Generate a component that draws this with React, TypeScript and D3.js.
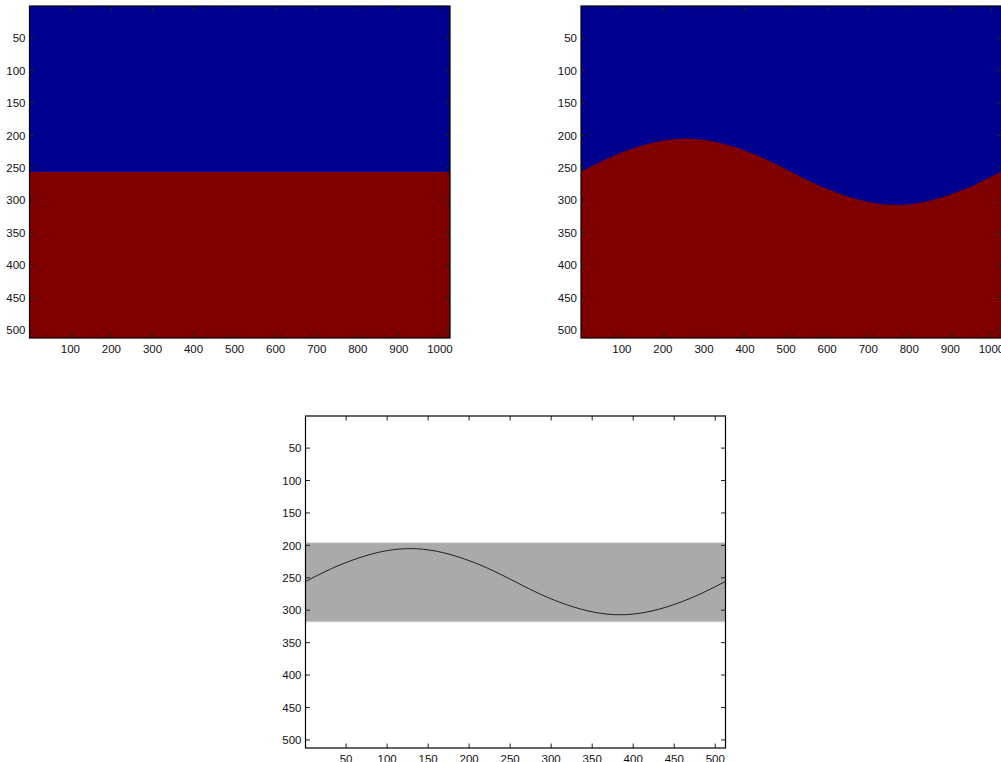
import * as d3 from "d3";

// image sizes (columns x rows)
const wideCols = 1024;
const wideRows = 512;
const squareSize = 512;

// tick values
const wideXTicks = [100, 200, 300, 400, 500, 600, 700, 800, 900, 1000];
const rowTicks = [50, 100, 150, 200, 250, 300, 350, 400, 450, 500];
const squareXTicks = [50, 100, 150, 200, 250, 300, 350, 400, 450, 500];

// flat split row (top-left image)
const flatSplitRow = 256;

// wave boundary rows
const waveRows = [256, 236, 220, 209, 205, 209, 220, 236, 256, 276, 292, 303, 307, 303, 292, 276, 256];
const waveColsWide = [0, 64, 128, 192, 256, 320, 384, 448, 512, 576, 640, 704, 768, 832, 896, 960, 1024];
const waveColsSquare = [0, 32, 64, 96, 128, 160, 192, 224, 256, 288, 320, 352, 384, 416, 448, 480, 512];

// gray band (bottom image)
const bandTopRow = 196;
const bandBottomRow = 318;

const BLUE = "#00008f";
const RED = "#7f0000";
const GRAY = "#aaaaaa";
const FONT = "'Liberation Sans', Arial, Helvetica, sans-serif";

type Frame = { left: number; top: number; width: number; height: number };

function Axes({
  id,
  frame,
  cols,
  rows,
  xTicks,
  yTicks,
  children,
}: {
  id: string;
  frame: Frame;
  cols: number;
  rows: number;
  xTicks: number[];
  yTicks: number[];
  children: (x: d3.ScaleLinear<number, number>, y: d3.ScaleLinear<number, number>) => any;
}) {
  const x = d3.scaleLinear().domain([0.5, cols + 0.5]).range([0, frame.width]);
  const y = d3.scaleLinear().domain([0.5, rows + 0.5]).range([0, frame.height]);
  const tl = 4.5;
  return (
    <g transform={`translate(${frame.left},${frame.top})`}>
      <defs>
        <clipPath id={id}>
          <rect width={frame.width} height={frame.height} />
        </clipPath>
      </defs>
      <g clipPath={`url(#${id})`}>{children(x, y)}</g>
      {xTicks.map((t) => (
        <g key={"x" + t}>
          <line x1={x(t)} x2={x(t)} y1={frame.height} y2={frame.height - tl} stroke="#222" />
          <line x1={x(t)} x2={x(t)} y1={0} y2={tl} stroke="#222" />
          <text
            x={x(t)}
            y={frame.height + 15}
            textAnchor="middle"
            fontSize={11.5}
            fontFamily={FONT}
            fill="#111"
          >
            {t}
          </text>
        </g>
      ))}
      {yTicks.map((t) => (
        <g key={"y" + t}>
          <line x1={0} x2={tl} y1={y(t)} y2={y(t)} stroke="#222" />
          <line x1={frame.width} x2={frame.width - tl} y1={y(t)} y2={y(t)} stroke="#222" />
          <text
            x={-4}
            y={y(t)}
            dy="0.36em"
            textAnchor="end"
            fontSize={11.5}
            fontFamily={FONT}
            fill="#111"
          >
            {t}
          </text>
        </g>
      ))}
      <rect width={frame.width} height={frame.height} fill="none" stroke="#000" strokeWidth={1.2} />
    </g>
  );
}

export default function App() {
  const topLeft: Frame = { left: 29.5, top: 6, width: 420.5, height: 332 };
  const topRight: Frame = { left: 581, top: 6, width: 420.5, height: 332 };
  const bottom: Frame = { left: 305.5, top: 416, width: 420, height: 332 };

  return (
    <svg
      width={1001}
      height={762}
      style={{ position: "absolute", left: 0, top: 0, background: "#fff" }}
    >
      <Axes id="c1" frame={topLeft} cols={wideCols} rows={wideRows} xTicks={wideXTicks} yTicks={rowTicks}>
        {(x, y) => (
          <>
            <rect x={0} y={0} width={topLeft.width} height={y(flatSplitRow + 0.5)} fill={BLUE} />
            <rect
              x={0}
              y={y(flatSplitRow + 0.5)}
              width={topLeft.width}
              height={topLeft.height - y(flatSplitRow + 0.5)}
              fill={RED}
            />
          </>
        )}
      </Axes>
      <Axes id="c2" frame={topRight} cols={wideCols} rows={wideRows} xTicks={wideXTicks} yTicks={rowTicks}>
        {(x, y) => {
          const area = d3
            .area<number>()
            .x((_, i) => x(waveColsWide[i]))
            .y0(topRight.height)
            .y1((d) => y(d))
            .curve(d3.curveNatural);
          return (
            <>
              <rect width={topRight.width} height={topRight.height} fill={BLUE} />
              <path d={area(waveRows) || ""} fill={RED} />
            </>
          );
        }}
      </Axes>
      <Axes id="c3" frame={bottom} cols={squareSize} rows={squareSize} xTicks={squareXTicks} yTicks={rowTicks}>
        {(x, y) => {
          const line = d3
            .line<number>()
            .x((_, i) => x(waveColsSquare[i]))
            .y((d) => y(d))
            .curve(d3.curveNatural);
          return (
            <>
              <rect width={bottom.width} height={bottom.height} fill="#fff" />
              <rect
                x={0}
                y={y(bandTopRow)}
                width={bottom.width}
                height={y(bandBottomRow) - y(bandTopRow)}
                fill={GRAY}
                stroke="#d8d8d8"
                strokeWidth={0.8}
              />
              <path d={line(waveRows) || ""} fill="none" stroke="#111" strokeWidth={0.9} />
            </>
          );
        }}
      </Axes>
    </svg>
  );
}
